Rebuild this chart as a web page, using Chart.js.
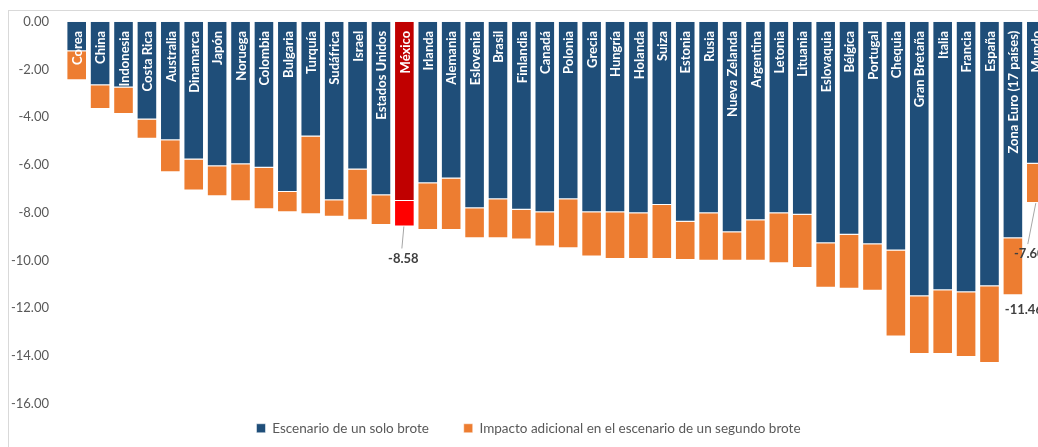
<!DOCTYPE html>
<html>
<head>
<meta charset="utf-8">
<script src="https://cdn.jsdelivr.net/npm/chart.js@4"></script>
<style>
    body { margin: 0; overflow: hidden; background: #fff; width: 1038px; height: 447px; position: relative; }
    #frame { position: absolute; left: 8px; top: 10px; width: 1100px; height: 500px; border-top: 1px solid #d9d9d9; border-left: 1px solid #d9d9d9; pointer-events: none; z-index: 2; }
    #myChart { position: absolute; left: 9px; top: 6px; }
</style>
</head>
<body>
<div id="frame"></div>
<canvas id="myChart" width="1052" height="441"></canvas>
<script>
// Impacto en el PIB por país: escenario de un brote y de dos brotes

const countries = ['Corea', 'China', 'Indonesia', 'Costa Rica', 'Australia', 'Dinamarca', 'Japón', 'Noruega',
    'Colombia', 'Bulgaria', 'Turquía', 'Sudáfrica', 'Israel', 'Estados Unidos', 'México', 'Irlanda', 'Alemania',
    'Eslovenia', 'Brasil', 'Finlandia', 'Canadá', 'Polonia', 'Grecia', 'Hungría', 'Holanda', 'Suiza', 'Estonia',
    'Rusia', 'Nueva Zelanda', 'Argentina', 'Letonia', 'Lituania', 'Eslovaquia', 'Bélgica', 'Portugal', 'Chequia',
    'Gran Bretaña', 'Italia', 'Francia', 'España', 'Zona Euro (17 países)', 'Mundo'];

// Escenario de un solo brote
const singleHit = [-1.23, -2.66, -2.75, -4.10, -4.97, -5.77, -6.06, -5.97, -6.12, -7.13, -4.81, -7.48, -6.19,
    -7.27, -7.51, -6.77, -6.57, -7.82, -7.44, -7.88, -7.98, -7.44, -7.98, -7.98, -8.03, -7.68, -8.38, -8.03,
    -8.82, -8.32, -8.03, -8.09, -9.28, -8.93, -9.32, -9.59, -11.50, -11.25, -11.34, -11.09, -9.07, -5.95];

// Impacto adicional en el escenario de un segundo brote
const secondHit = [-1.22, -0.99, -1.11, -0.80, -1.34, -1.30, -1.25, -1.55, -1.74, -0.85, -3.26, -0.69, -2.13,
    -1.25, -1.07, -1.96, -2.16, -1.25, -1.63, -1.25, -1.44, -2.05, -1.86, -1.96, -1.91, -2.26, -1.60, -1.99,
    -1.20, -1.70, -2.09, -2.23, -1.87, -2.26, -1.95, -3.60, -2.43, -2.68, -2.71, -3.21, -2.39, -1.65];

const yTicks = [0, -2, -4, -6, -8, -10, -12, -14, -16];

// countries whose total gets a value label: [name, dx, dy, leader line]
const labelled = [
    ['México', -1, 32, true],
    ['Zona Euro (17 países)', 11, 15, false],
    ['Mundo', -7, 51, true]
];

const highlight = countries.indexOf('México');
const blueColors = countries.map((c, i) => i === highlight ? '#C00000' : '#1F4E79');
const orangeColors = countries.map((c, i) => i === highlight ? '#FF0000' : '#ED7D31');

const FONT = 'Lato, "DejaVu Sans", sans-serif';

// country names inside the bars + total labels
const barLabels = {
    id: 'barLabels',
    afterDatasetsDraw(chart) {
        const {ctx, scales: {x, y}} = chart;
        ctx.save();
        ctx.font = 'bold 13px ' + FONT;
        ctx.fillStyle = '#ffffff';
        ctx.textAlign = 'right';
        ctx.textBaseline = 'middle';
        countries.forEach((name, i) => {
            ctx.save();
            ctx.translate(x.getPixelForValue(i), y.getPixelForValue(0) + 9);
            ctx.rotate(-Math.PI / 2);
            ctx.fillText(name, 0, 1);
            ctx.restore();
        });

        ctx.font = 'bold 13px ' + FONT;
        ctx.fillStyle = '#404040';
        ctx.textAlign = 'center';
        labelled.forEach(([name, dx, dy, leader]) => {
            const i = countries.indexOf(name);
            const total = singleHit[i] + secondHit[i];
            const cx = x.getPixelForValue(i);
            const bottom = y.getPixelForValue(total);
            if (leader) {
                ctx.strokeStyle = '#a6a6a6';
                ctx.lineWidth = 1;
                ctx.beginPath();
                ctx.moveTo(cx - 0.5, bottom);
                ctx.lineTo(cx + dx - 1.5, bottom + dy - 10);
                ctx.stroke();
            }
            ctx.fillText(total.toFixed(2), cx + dx, bottom + dy);
        });
        ctx.restore();
    }
};

const ctx = document.getElementById('myChart');
const myChart = new Chart(ctx, {
    type: 'bar',
    data: {
        labels: countries,
        datasets: [{
            label: 'Escenario de un solo brote',
            data: singleHit,
            backgroundColor: blueColors,
            borderColor: 'rgba(255, 255, 255, 0.5)',
            borderWidth: 1
        },
        {
            label: 'Impacto adicional en el escenario de un segundo brote',
            data: secondHit,
            backgroundColor: orangeColors,
            borderColor: 'rgba(255, 255, 255, 0.5)',
            borderWidth: 1
        }]
    },
    options: {
        responsive: false,
        animation: false,
        categoryPercentage: 1,
        barPercentage: 0.88,
        layout: {
            padding: {top: 0, right: 13, bottom: 2, left: 0}
        },
        scales: {
            x: {
                stacked: true,
                display: false
            },
            y: {
                stacked: true,
                min: -16,
                max: 0,
                afterBuildTicks: axis => { axis.ticks = yTicks.map(v => ({value: v})); },
                afterFit: axis => { axis.width = 56; },
                grid: {display: false},
                border: {display: false},
                ticks: {
                    padding: 8,
                    color: '#595959',
                    font: {family: FONT, size: 13},
                    callback: v => v.toFixed(2)
                }
            }
        },
        plugins: {
            tooltip: {enabled: false},
            legend: {
                position: 'bottom',
                labels: {
                    color: '#595959',
                    font: {family: FONT, size: 13.5},
                    boxWidth: 9,
                    boxHeight: 9,
                    padding: 18,
                    // extra room after the first entry
                    generateLabels: chart => {
                        const items = Chart.defaults.plugins.legend.labels.generateLabels(chart);
                        items[0].text += '\u2003\u2002';
                        return items;
                    }
                }
            }
        }
    },
    plugins: [barLabels]
});
</script>
</body>
</html>
